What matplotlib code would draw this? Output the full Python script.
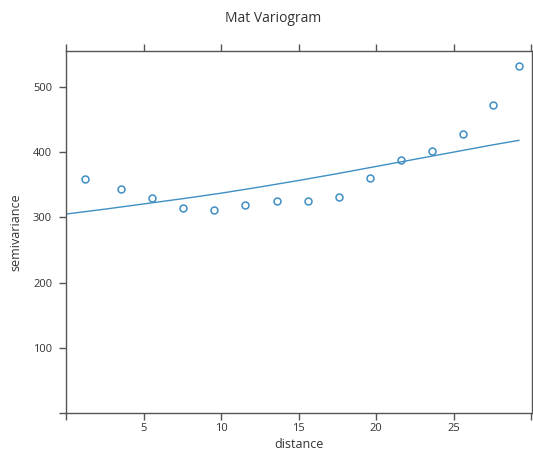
import matplotlib
matplotlib.use("Agg")
import matplotlib.pyplot as plt

plt.rcParams['font.family'] = ['Open Sans', 'DejaVu Sans']

# empirical variogram points
dist = [1.2, 3.53, 5.52, 7.57, 9.56, 11.56, 13.6, 15.58, 17.6, 19.62, 21.62, 23.6, 25.6, 27.54, 29.2]
gamma = [358.5, 344, 329.4, 315, 311.5, 319, 325, 325.7, 331, 361, 387.7, 401.5, 428, 472.4, 532]

# fitted model curve
model_d = [0, 2.5, 5, 7.5, 10, 12.5, 15, 17.5, 20, 22.5, 25, 27.5, 29.2]
model_g = [305, 312.5, 320.5, 328.5, 337, 346.5, 356.5, 367, 378, 389, 400, 411, 418]

xticks = [0, 5, 10, 15, 20, 25, 30]
xticklabels = ['', '5', '10', '15', '20', '25', '']
yticks = [0, 100, 200, 300, 400, 500]
yticklabels = ['', '100', '200', '300', '400', '500']

col = '#3f8fc4'
axcol = '#555555'

fig = plt.figure(figsize=(5.33, 4.51), dpi=100)
ax = fig.add_axes([66/533, 1-413/451, (532-66)/533, (413-51)/451])

ax.plot(model_d, model_g, color=col, lw=1.0)
ax.plot(dist, gamma, linestyle='none', marker='o', markersize=5, markerfacecolor='none',
        markeredgecolor=col, markeredgewidth=1.1)

ax.set_xlim(0, 30.05)
ax.set_ylim(0, 555)
ax.set_xticks(xticks)
ax.set_xticklabels(xticklabels)
ax.set_yticks(yticks)
ax.set_yticklabels(yticklabels)

ax.tick_params(axis='both', direction='out', length=5, width=1, color=axcol,
               labelsize=8, labelcolor='#333333', top=True, right=True)
ax.tick_params(axis='x', pad=2)
ax.tick_params(axis='y', pad=5)
for s in ax.spines.values():
    s.set_color(axcol)
    s.set_linewidth(1.0)

ax.set_xlabel('distance', fontsize=9, color='#333333')
ax.xaxis.set_label_coords(0.5, -0.068)
ax.set_ylabel('semivariance', fontsize=9, color='#333333', labelpad=8)

fig.text(273/533, 1-18/451, 'Mat Variogram', ha='center', va='center', fontsize=10, color='#333333')

fig.savefig('out.png', dpi=100)
